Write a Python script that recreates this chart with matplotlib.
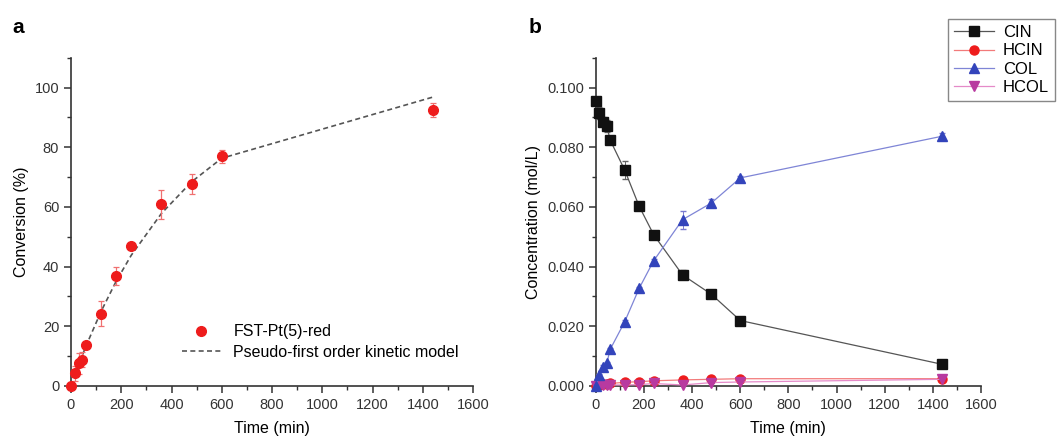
import matplotlib
matplotlib.use("Agg")
import matplotlib.pyplot as plt
from matplotlib.lines import Line2D
from matplotlib.ticker import MultipleLocator, FormatStrFormatter

plt.rcParams['font.family'] = ['Liberation Sans', 'DejaVu Sans']

# panel a: conversion vs time
t = [0, 15, 30, 45, 60, 120, 180, 240, 360, 480, 600, 1440]
conv = [0, 4.3, 7.6, 8.7, 13.8, 24.2, 36.7, 46.8, 60.8, 67.7, 76.9, 92.5]
conv_err = [0, 2.5, 3.5, 2.5, 1.0, 4.2, 3.0, 1.0, 5.0, 3.3, 2.3, 2.3]
model = [0, 3.5, 6.9, 10.2, 13.4, 25.0, 35.1, 43.8, 57.8, 68.4, 76.3, 96.8]

# panel b: concentrations (mol/L)
cin = [0.0955, 0.0916, 0.0885, 0.0871, 0.0823, 0.0723, 0.0602, 0.0507, 0.0372, 0.0307, 0.0219, 0.0072]
cin_err = [0.001, 0.002, 0.0015, 0.002, 0.0008, 0.003, 0.001, 0.0005, 0.0015, 0.0005, 0.0005, 0.0005]
hcin = [0.0, 0.0003, 0.0005, 0.0006, 0.0008, 0.0012, 0.0014, 0.0017, 0.0020, 0.0022, 0.0024, 0.0024]
col = [0.0, 0.0036, 0.0064, 0.0075, 0.0123, 0.0215, 0.0327, 0.0419, 0.0557, 0.0613, 0.0697, 0.0837]
col_err = [0, 0.0003, 0.0005, 0.0005, 0.0005, 0.0005, 0.0005, 0.0005, 0.003, 0.0015, 0.0008, 0.001]
hcol = [0.0, 0.0001, 0.0002, 0.0002, 0.0003, 0.0003, 0.0004, 0.0008, 0.0003, 0.0011, 0.0013, 0.0022]

names = ['CIN', 'HCIN', 'COL', 'HCOL']
markers = ['s', 'o', '^', 'v']
mcolors = ['#111111', '#ee1c1c', '#3344bb', '#b83aa0']
lcolors = ['#555555', '#f27a7a', '#7f85d6', '#e58ac8']

fig = plt.figure(figsize=(10.64, 4.37), dpi=100)
ax1 = fig.add_axes([0.0667, 0.117, 0.378, 0.751])
ax2 = fig.add_axes([0.560, 0.117, 0.362, 0.751])

def style(ax):
  for s in ['top', 'right']:
    ax.spines[s].set_visible(False)
  for s in ['left', 'bottom']:
    ax.spines[s].set_linewidth(1.2)
    ax.spines[s].set_color('#333333')
  ax.tick_params(which='both', direction='out', labelsize=10.5, colors='#333333')
  ax.tick_params(which='major', length=5, width=1.1)
  ax.tick_params(which='minor', length=3, width=1.0)
  ax.xaxis.set_major_locator(MultipleLocator(200))
  ax.xaxis.set_minor_locator(MultipleLocator(100))
  ax.set_xlim(0, 1600)
  ax.set_xlabel('Time (min)', fontsize=11.5, labelpad=7)

# --- a ---
ax1.errorbar(t, conv, yerr=conv_err, fmt='o', color='#ee1c1c', ms=7,
             ecolor='#f07070', elinewidth=0.9, capsize=2.5, capthick=0.9,
             zorder=3, clip_on=False)
ax1.plot(t, model, '--', color='#555555', lw=1.2, dashes=(3, 2))
style(ax1)
ax1.set_ylim(0, 110)
ax1.yaxis.set_major_locator(MultipleLocator(20))
ax1.yaxis.set_minor_locator(MultipleLocator(10))
ax1.set_ylabel('Conversion (%)', fontsize=11.5)
h_a = [Line2D([], [], ls='none', marker='o', color='#ee1c1c', ms=7),
       Line2D([], [], ls='--', color='#555555', lw=1.2, dashes=(3, 2))]
ax1.legend(h_a, ['FST-Pt(5)-red', 'Pseudo-first order kinetic model'],
           loc='lower right', bbox_to_anchor=(1.0, 0.035), frameon=False,
           fontsize=11.5, handlelength=2.4, handletextpad=0.8, labelspacing=0.35)
fig.text(0.012, 0.925, 'a', fontsize=15, fontweight='bold')

# --- b ---
ax2.errorbar(t, cin, yerr=cin_err, fmt='-' + markers[0], color=lcolors[0], mfc=mcolors[0], mec=mcolors[0],
             ms=6.5, lw=0.9, elinewidth=0.7, capsize=2.5, ecolor='#666666', zorder=4, clip_on=False)
ax2.plot(t, hcin, '-' + markers[1], color=lcolors[1], mfc=mcolors[1], mec=mcolors[1],
         ms=6.5, lw=0.9, zorder=3, clip_on=False)
ax2.errorbar(t, col, yerr=col_err, fmt='-' + markers[2], color=lcolors[2], mfc=mcolors[2], mec=mcolors[2],
             ms=7, lw=0.9, elinewidth=0.7, capsize=2.5, ecolor='#7a7ad0', zorder=4, clip_on=False)
ax2.plot(t, hcol, '-' + markers[3], color=lcolors[3], mfc=mcolors[3], mec=mcolors[3],
         ms=6.5, lw=0.9, zorder=3, clip_on=False)
style(ax2)
ax2.set_ylim(0, 0.11)
ax2.yaxis.set_major_locator(MultipleLocator(0.02))
ax2.yaxis.set_minor_locator(MultipleLocator(0.01))
ax2.yaxis.set_major_formatter(FormatStrFormatter('%.3f'))
ax2.set_ylabel('Concentration (mol/L)', fontsize=11.5)
h_b = [Line2D([], [], color=lc, lw=0.9, marker=m, mfc=mc, mec=mc, ms=6.5)
       for m, mc, lc in zip(markers, mcolors, lcolors)]
fig.legend(h_b, names, loc='upper right', bbox_to_anchor=(0.999, 0.975), fontsize=12,
           frameon=True, fancybox=False, edgecolor='#888888', framealpha=1,
           handlelength=2.4, borderpad=0.35, labelspacing=0.2, handletextpad=0.5)
fig.text(0.497, 0.925, 'b', fontsize=15, fontweight='bold')

fig.savefig('out.png', dpi=100)
